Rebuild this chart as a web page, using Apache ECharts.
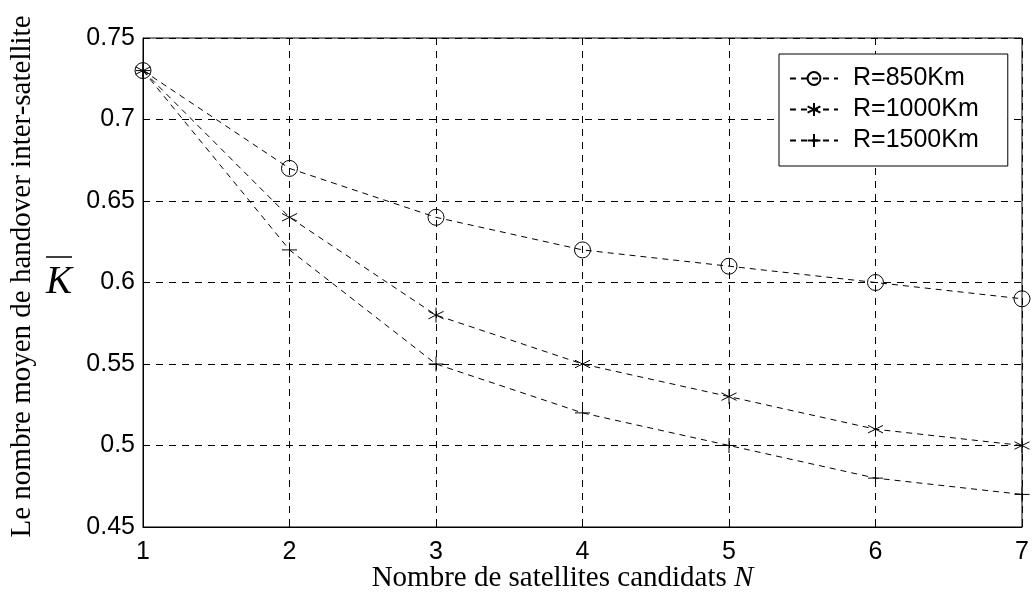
<!DOCTYPE html>
<html>
<head>
<meta charset="utf-8">
<script src="https://cdn.jsdelivr.net/npm/echarts@6/dist/echarts.min.js"></script>
<style>
  html, body { margin: 0; padding: 0; background: #fff; }
  #chart { width: 1033px; height: 595px; }
</style>
</head>
<body>
<div id="chart"></div>
<script>
// Number of candidate satellites N
const candidates = [1, 2, 3, 4, 5, 6, 7];

// Mean number of inter-satellite handovers for each orbit radius
const r850 = [0.73, 0.67, 0.64, 0.62, 0.61, 0.60, 0.59];
const r1000 = [0.73, 0.64, 0.58, 0.55, 0.53, 0.51, 0.50];
const r1500 = [0.73, 0.62, 0.55, 0.52, 0.50, 0.48, 0.47];

const seriesNames = ['R=850Km', 'R=1000Km', 'R=1500Km'];

const yTicks = [0.45, 0.5, 0.55, 0.6, 0.65, 0.7, 0.75];

// stroke-only marker shapes
const asterisk = 'path://M5,0 L5,10 M0.7,2.5 L9.3,7.5 M0.7,7.5 L9.3,2.5';
const plus = 'path://M5,0 L5,10 M0,5 L10,5';

function pairs(values) {
  return candidates.map((n, i) => [n, values[i]]);
}

const chart = echarts.init(document.getElementById('chart'));

function lineSeries(name, values, symbol, size) {
  return {
    name: name,
    type: 'line',
    data: pairs(values),
    symbol: symbol,
    symbolSize: size,
    showAllSymbol: true,
    animation: false,
    lineStyle: { color: '#000', width: 1, type: [6, 5] },
    itemStyle: { color: 'rgba(0,0,0,0)', borderColor: '#000', borderWidth: 1 },
    emphasis: { disabled: true }
  };
}

chart.setOption({
  backgroundColor: '#fff',
  animation: false,
  grid: {
    left: 143, right: 11, top: 38, bottom: 68,
    containLabel: false,
    outerBoundsMode: 'none',
    show: true, borderColor: '#000', borderWidth: 1
  },
  legend: {
    data: seriesNames,
    orient: 'vertical',
    left: 779, top: 54,
    width: 228,
    padding: [12, 29, 13, 10],
    itemGap: 6,
    itemWidth: 48,
    itemHeight: 16,
    backgroundColor: '#fff',
    borderColor: '#000',
    borderWidth: 1,
    textStyle: { fontFamily: 'Liberation Sans', fontSize: 25, color: '#000', padding: [0, 0, 0, 10] }
  },
  xAxis: {
    type: 'value',
    min: 1, max: 7, interval: 1,
    name: '{t|Nombre de satellites candidats }{i|N}',
    nameLocation: 'middle',
    nameGap: 37,
    nameMoveOverlap: false,
    nameTextStyle: {
      padding: [0, 40, 0, 0],
      rich: {
        t: { fontFamily: 'Liberation Serif', fontSize: 29, color: '#000' },
        i: { fontFamily: 'Liberation Serif', fontSize: 29, fontStyle: 'italic', color: '#000' }
      }
    },
    axisLine: { lineStyle: { color: '#000', width: 1 } },
    axisTick: { inside: true, length: 6, lineStyle: { color: '#000' } },
    axisLabel: { fontFamily: 'Liberation Sans', fontSize: 25, color: '#000', margin: 13 },
    splitLine: { show: true, lineStyle: { color: '#000', type: [7, 6], width: 1 } }
  },
  yAxis: {
    type: 'value',
    min: 0.45, max: 0.75, interval: 0.05,
    name: 'Le nombre moyen de handover inter-satellite',
    nameLocation: 'middle',
    nameRotate: 90,
    nameGap: 106,
    nameMoveOverlap: false,
    nameTextStyle: {
      fontFamily: 'Liberation Serif', fontSize: 29, color: '#000',
      padding: [0, 0, 0, 12]
    },
    axisLine: { lineStyle: { color: '#000', width: 1 } },
    axisTick: { inside: true, length: 6, lineStyle: { color: '#000' } },
    axisLabel: {
      fontFamily: 'Liberation Sans', fontSize: 25, color: '#000', margin: 8,
      formatter: v => {
        const t = yTicks.find(y => Math.abs(y - v) < 1e-9);
        return t === undefined ? '' : String(t);
      }
    },
    splitLine: { show: true, lineStyle: { color: '#000', type: [7, 6], width: 1 } }
  },
  graphic: [
    {
      type: 'text', left: 46, top: 263,
      style: {
        text: 'K', font: 'italic 39px "Liberation Serif"', fill: '#000'
      }
    },
    {
      type: 'line',
      shape: { x1: 46, y1: 257, x2: 72, y2: 257 },
      style: { stroke: '#000', lineWidth: 1.5 }
    }
  ],
  series: [
    lineSeries(seriesNames[0], r850, 'circle', 16),
    lineSeries(seriesNames[1], r1000, asterisk, 15),
    lineSeries(seriesNames[2], r1500, plus, 15)
  ]
});
</script>
</body>
</html>
